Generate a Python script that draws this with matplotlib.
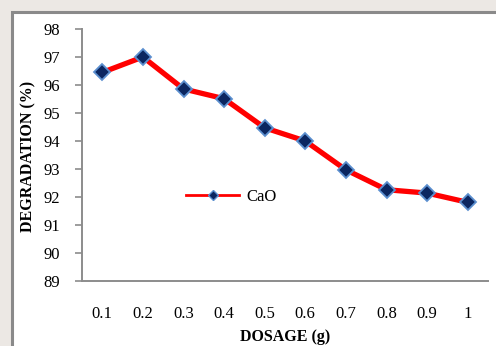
import matplotlib
matplotlib.use("Agg")
import matplotlib.pyplot as plt
from matplotlib.patches import Rectangle
from matplotlib.lines import Line2D

dosage = ["0.1", "0.2", "0.3", "0.4", "0.5", "0.6", "0.7", "0.8", "0.9", "1"]
degradation = [96.45, 97.0, 95.86, 95.51, 94.47, 94.0, 92.97, 92.26, 92.14, 91.81]
yticks = [89, 90, 91, 92, 93, 94, 95, 96, 97, 98]
series_name = "CaO"

plt.rcParams['font.family'] = ['Liberation Serif', 'DejaVu Serif']

W, H = 496, 346
fig = plt.figure(figsize=(W / 100, H / 100), dpi=100)
fig.patch.set_facecolor("#ece8e4")
fig.patches.append(Rectangle((12 / W, -0.1), 1.2, 1 - 12 / H + 0.1, transform=fig.transFigure,
                             facecolor="white", edgecolor="#8a8a8a", linewidth=2.2, zorder=-10))

ax = fig.add_axes([82 / W, 1 - 281 / H, (488 - 82) / W, (281 - 29) / H])
ax.set_facecolor("none")
x = list(range(len(dosage)))
ax.plot(x, degradation, color="#ff0000", linewidth=3.8, marker="D", markersize=8,
        markerfacecolor="#0b2660", markeredgecolor="#5b8fcf", markeredgewidth=1.3, zorder=3)
ax.set_xlim(-0.5, len(dosage) - 0.5)
ax.set_ylim(89, 98)
ax.set_yticks(yticks)
ax.set_xticks(x)
ax.set_xticklabels(dosage)
for s in ["top", "right"]:
    ax.spines[s].set_visible(False)
for s in ["left", "bottom"]:
    ax.spines[s].set_color("#8c8c8c")
    ax.spines[s].set_linewidth(1.4)
ax.tick_params(axis="y", direction="out", length=5, width=1.2, color="#8c8c8c", labelsize=12, pad=11)
ax.tick_params(axis="x", length=0, labelsize=12, pad=18)

fig.text(28 / W, 1 - 156 / H, "DEGRADATION (%)", rotation=90, ha="center", va="center",
         fontsize=11.5, fontweight="bold")
fig.text(285 / W, 1 - 337 / H, "DOSAGE (g)", ha="center", va="center",
         fontsize=11.5, fontweight="bold")

handle = Line2D([], [], color="#ff0000", linewidth=2, marker="D", markersize=5,
                markerfacecolor="#0b2660", markeredgecolor="#5b8fcf", markeredgewidth=1)
fig.legend([handle], [series_name], loc="center left", bbox_to_anchor=(186 / W, 1 - 197 / H),
           frameon=False, borderpad=0, borderaxespad=0, handlelength=3.2, handletextpad=0.4,
           fontsize=12)

fig.savefig("out.png", dpi=100, facecolor=fig.get_facecolor())
